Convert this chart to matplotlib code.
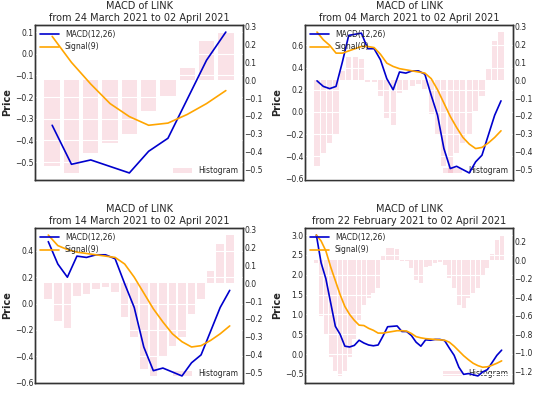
import matplotlib
matplotlib.use("Agg")
import matplotlib.pyplot as plt
import seaborn as sns
import numpy as np

sns.set_style("darkgrid")
plt.rcParams['font.family'] = ['DejaVu Sans']

# 40 days of data: 22 Feb 2021 .. 02 Apr 2021
macd = [3.0, 2.3, 1.9, 1.3, 0.7, 0.5, 0.2, 0.18, 0.22, 0.35,
        0.28, 0.23, 0.21, 0.23, 0.45, 0.69, 0.70, 0.71, 0.57, 0.57,
        0.47, 0.30, 0.20, 0.36, 0.35, 0.37, 0.37, 0.34, 0.15, -0.03,
        -0.33, -0.51, -0.49, -0.52, -0.55, -0.45, -0.39, -0.21, -0.03, 0.10]
signal = [3.0, 2.85, 2.6, 2.2, 1.85, 1.5, 1.2, 1.0, 0.85, 0.73,
          0.72, 0.65, 0.60, 0.53, 0.53, 0.55, 0.57, 0.59, 0.59, 0.58,
          0.52, 0.44, 0.41, 0.39, 0.38, 0.37, 0.36, 0.35, 0.30, 0.20,
          0.08, -0.04, -0.14, -0.23, -0.29, -0.33, -0.32, -0.28, -0.23, -0.17]
hist = [-0.03, -0.6, -0.8, -1.05, -1.2, -1.25, -1.2, -1.05, -0.85, -0.65,
        -0.48, -0.41, -0.35, -0.30, 0.05, 0.13, 0.13, 0.12, -0.01, -0.01,
        -0.09, -0.21, -0.25, -0.07, -0.06, -0.03, -0.02, -0.05, -0.19, -0.30,
        -0.48, -0.52, -0.41, -0.35, -0.30, -0.17, -0.09, 0.07, 0.22, 0.27]

panels = [("from 24 March 2021 to 02 April 2021", 10),
          ("from 04 March 2021 to 02 April 2021", 30),
          ("from 14 March 2021 to 02 April 2021", 20),
          ("from 22 February 2021 to 02 April 2021", 40)]

fig = plt.figure(figsize=(5.4, 4.05), dpi=100)
W, H = 540, 405
pos = [(35, 25), (305, 25), (35, 228), (305, 228)]
for (title, n), (px, py) in zip(panels, pos):
    ax = fig.add_axes([px / W, 1 - (py + 155) / H, 208 / W, 155 / H])
    tw = ax.twinx()
    x = np.arange(n)
    tw.bar(x, hist[-n:], width=0.8, color='crimson', alpha=0.12, linewidth=0,
           edgecolor='none', label='Histogram', zorder=1)
    ax.set_zorder(tw.get_zorder() + 1)
    ax.patch.set_visible(False)
    tw.patch.set_facecolor('#EAEAF2')
    ax.plot(x, macd[-n:], color='mediumblue', lw=1.2, label='MACD(12,26)')
    ax.plot(x, signal[-n:], color='orange', lw=1.2, label='Signal(9)')
    ax.set_title("MACD of LINK\n" + title, fontsize=7, pad=3)
    ax.set_ylabel("Price", fontsize=7, fontweight='bold', labelpad=2)
    ax.set_xticks([])
    for a in (ax, tw):
        a.tick_params(labelsize=5.5, pad=1, length=0)
        for s in a.spines.values():
            s.set_visible(True)
            s.set_color('#333333')
            s.set_linewidth(1.0)
    tw.grid(True, color='white', lw=0.8)
    ax.grid(True, color='white', lw=0.8)
    ax.legend(loc='upper left', fontsize=5.5, frameon=False, borderaxespad=0.2, handlelength=2.5)
    tw.legend(loc='lower right', fontsize=5.5, frameon=False, borderaxespad=0.2, handlelength=2.5)

fig.savefig("out.png", dpi=100)
